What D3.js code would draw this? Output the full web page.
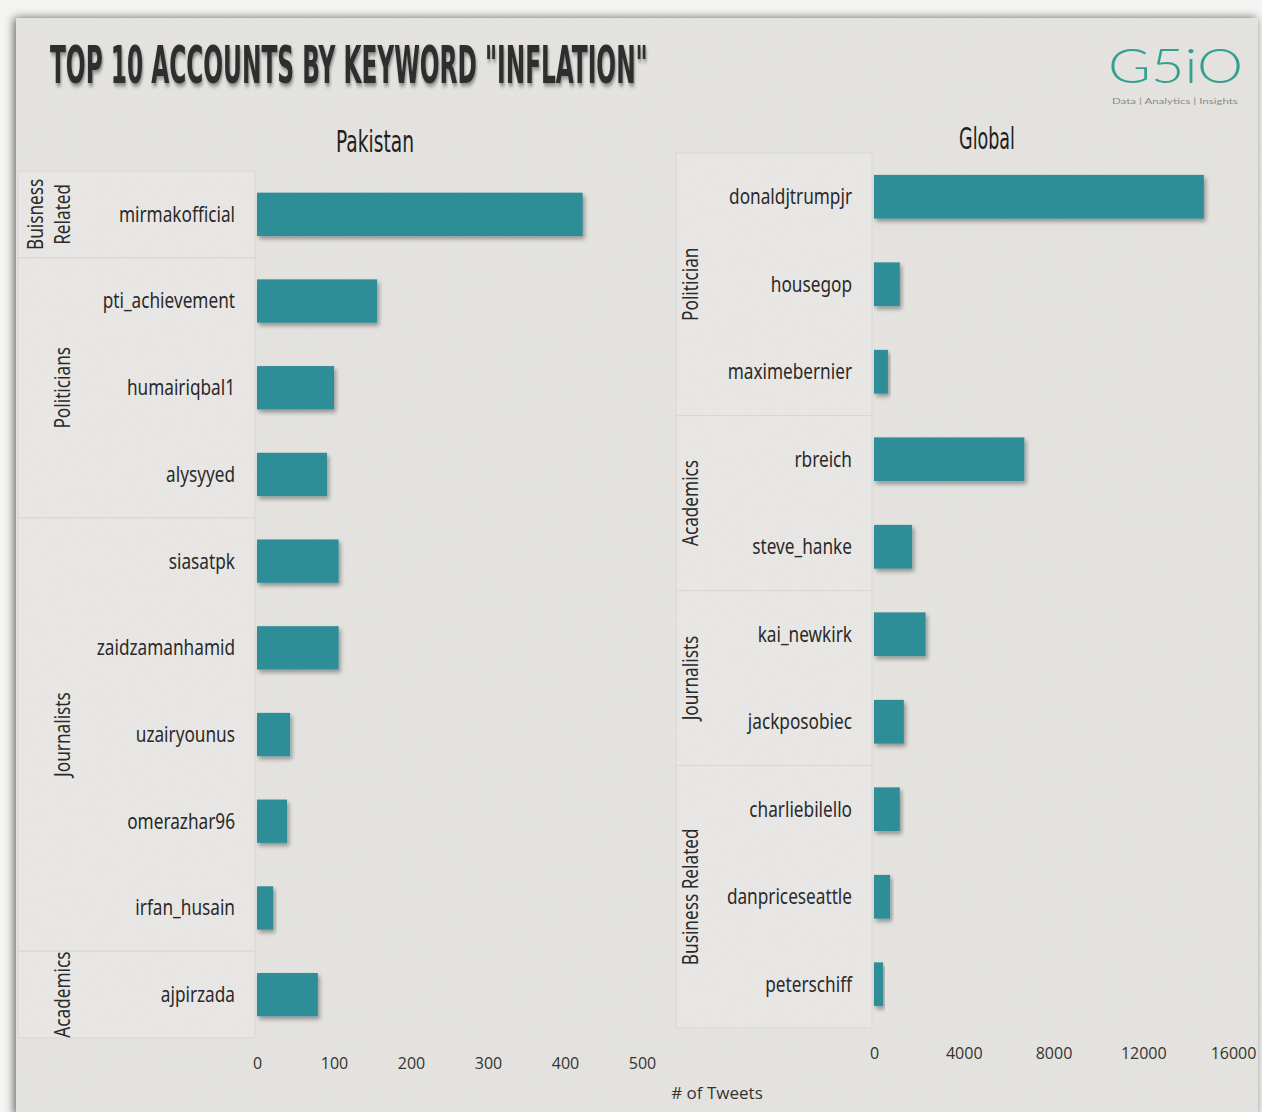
<!DOCTYPE html>
<html>
<head>
<meta charset="utf-8">
<script src="https://cdn.jsdelivr.net/npm/d3@7"></script>
<style>
  body { margin: 0; background: #f4f4f2; }
  svg { display: block; }
</style>
</head>
<body>
<div id="chart"></div>
<script>
// pakistan side
var pkAccounts = ["mirmakofficial", "pti_achievement", "humairiqbal1", "alysyyed", "siasatpk",
                  "zaidzamanhamid", "uzairyounus", "omerazhar96", "irfan_husain", "ajpirzada"];
var pkValues = [423, 156, 100, 91, 106, 106, 43, 39, 21, 79];
var pkGroupNames = [["Buisness", "Related"], ["Politicians"], ["Journalists"], ["Academics"]];
var pkGroupSizes = [1, 3, 5, 1];
var pkTicks = [0, 100, 200, 300, 400, 500];

// global side
var glAccounts = ["donaldjtrumpjr", "housegop", "maximebernier", "rbreich", "steve_hanke",
                  "kai_newkirk", "jackposobiec", "charliebilello", "danpriceseattle", "peterschiff"];
var glValues = [14700, 1150, 620, 6700, 1700, 2300, 1330, 1150, 720, 400];
var glGroupNames = [["Politician"], ["Academics"], ["Journalists"], ["Business Related"]];
var glGroupSizes = [3, 2, 2, 3];
var glTicks = [0, 4000, 8000, 12000, 16000];

var W = 1262, H = 1112;
var barColor = "#2f8e97";
var labelFont = "'Noto Sans', sans-serif";
var squeeze = 0.82; // labels in the original are a condensed face

var svg = d3.select("#chart").append("svg")
  .attr("width", W).attr("height", H);

var defs = svg.append("defs");

// paper grain
var grain = defs.append("filter").attr("id", "grain")
  .attr("x", 0).attr("y", 0).attr("width", "100%").attr("height", "100%");
grain.append("feTurbulence").attr("type", "fractalNoise")
  .attr("baseFrequency", 0.9).attr("numOctaves", 2).attr("seed", 3);
grain.append("feColorMatrix").attr("type", "matrix")
  .attr("values", "0 0 0 0 0.5  0 0 0 0 0.5  0 0 0 0 0.5  0 0 0 0.09 0");

// page shadow
var pageShadow = defs.append("filter").attr("id", "pageShadow")
  .attr("x", "-5%").attr("y", "-5%").attr("width", "110%").attr("height", "110%");
pageShadow.append("feDropShadow").attr("dx", -2).attr("dy", 0)
  .attr("stdDeviation", 5).attr("flood-color", "#000").attr("flood-opacity", 0.6);

// bar shadow
var barShadow = defs.append("filter").attr("id", "barShadow")
  .attr("x", "-20%").attr("y", "-30%").attr("width", "140%").attr("height", "170%");
barShadow.append("feDropShadow").attr("dx", 2).attr("dy", 3)
  .attr("stdDeviation", 2).attr("flood-color", "#000").attr("flood-opacity", 0.35);

// text shadow for title
var textShadow = defs.append("filter").attr("id", "textShadow")
  .attr("x", "-5%").attr("y", "-20%").attr("width", "110%").attr("height", "150%");
textShadow.append("feDropShadow").attr("dx", 2).attr("dy", 3)
  .attr("stdDeviation", 2).attr("flood-color", "#000").attr("flood-opacity", 0.4);

// squash a text horizontally so it spans w pixels
function fitWidth(sel, x, y, w) {
  var len = sel.node().getComputedTextLength();
  sel.attr("transform", "translate(" + x + "," + y + ") scale(" + (w / len) + ",1)");
}

// paper background
svg.append("rect")
  .attr("x", 16).attr("y", 18).attr("width", W - 20).attr("height", H - 14)
  .attr("fill", "#e5e4e0")
  .attr("filter", "url(#pageShadow)");
svg.append("rect")
  .attr("x", 16).attr("y", 18).attr("width", W - 20).attr("height", H - 14)
  .attr("filter", "url(#grain)");

// title
var title = svg.append("text")
  .style("font-family", "'DejaVu Sans Condensed', 'DejaVu Sans', sans-serif")
  .style("font-weight", "bold").style("font-size", "52px")
  .attr("fill", "#2f2f2f")
  .attr("filter", "url(#textShadow)")
  .text("TOP 10 ACCOUNTS BY KEYWORD \"INFLATION\"");
fitWidth(title, 50, 83, 598);

// logo
var logo = svg.append("text")
  .style("font-family", "Lato, sans-serif").style("font-weight", 300)
  .style("font-size", "48px")
  .attr("fill", "#35a091")
  .text("G5iO");
fitWidth(logo, 1108, 83, 135);
var tag = svg.append("text")
  .style("font-family", "Lato, sans-serif").style("font-size", "8px")
  .attr("fill", "#8a8a8a")
  .text("Data | Analytics | Insights");
fitWidth(tag, 1112, 104, 126);

// one panel = table of groups + bars
function drawPanel(opt) {
  var y = d3.scaleBand()
    .domain(opt.accounts)
    .range([opt.top, opt.bottom])
    .paddingInner(0.5).paddingOuter(0.25);

  var x = d3.scaleLinear()
    .domain([0, opt.ticks[opt.ticks.length - 1]])
    .range([opt.x0, opt.x1]);

  var g = svg.append("g");

  // group boxes
  var start = 0;
  opt.groupSizes.forEach(function(n, i) {
    var gy0 = opt.top + y.step() * start;
    var gy1 = opt.top + y.step() * (start + n);
    g.append("rect")
      .attr("x", opt.tableLeft).attr("y", gy0)
      .attr("width", opt.tableRight - opt.tableLeft).attr("height", gy1 - gy0)
      .attr("fill", "#ebeae7").attr("fill-opacity", 0.6)
      .attr("stroke", "#d9d8d4").attr("stroke-width", 1);

    var lines = opt.groupNames[i];
    var cy = (gy0 + gy1) / 2;
    lines.forEach(function(line, j) {
      var cx = opt.catX - (lines.length - 1 - j) * 27;
      g.append("text")
        .attr("transform", "translate(" + cx + "," + cy + ") rotate(-90) scale(" + squeeze + ",1)")
        .attr("text-anchor", "middle")
        .style("font-family", labelFont).style("font-size", "21px")
        .attr("fill", "#2a2a2a")
        .text(line);
    });
    start += n;
  });

  // account labels
  g.selectAll(".acc")
    .data(opt.accounts)
    .enter().append("text")
    .attr("transform", function(d) {
      return "translate(" + opt.labelX + "," + (y(d) + y.bandwidth() / 2) + ") scale(" + squeeze + ",1)";
    })
    .attr("dy", "0.35em")
    .attr("text-anchor", "end")
    .style("font-family", labelFont).style("font-size", "21px")
    .attr("fill", "#2a2a2a")
    .text(function(d) { return d; });

  // bars
  g.selectAll(".bar")
    .data(opt.values)
    .enter().append("rect")
    .attr("x", x(0))
    .attr("y", function(d, i) { return y(opt.accounts[i]); })
    .attr("width", function(d) { return x(d) - x(0); })
    .attr("height", y.bandwidth())
    .attr("fill", barColor)
    .attr("filter", "url(#barShadow)");

  // x axis, labels only
  var axis = g.append("g")
    .attr("transform", "translate(0," + opt.axisY + ")")
    .call(d3.axisBottom(x).tickValues(opt.ticks).tickFormat(d3.format("d")).tickSize(0).tickPadding(0));
  axis.select(".domain").remove();
  axis.selectAll("text")
    .style("font-family", "'Open Sans', sans-serif").style("font-size", "16px")
    .attr("fill", "#333");

  // panel title
  var t = svg.append("text")
    .attr("text-anchor", "middle")
    .style("font-family", "'DejaVu Sans Condensed', sans-serif")
    .style("font-size", "31px")
    .attr("fill", "#1e1e1e")
    .text(opt.title);
  fitWidth(t, opt.titleX, opt.titleY, opt.titleW);
}

drawPanel({
  accounts: pkAccounts, values: pkValues, ticks: pkTicks,
  groupNames: pkGroupNames, groupSizes: pkGroupSizes,
  top: 171, bottom: 1038, x0: 257, x1: 642,
  tableLeft: 18, tableRight: 255, labelX: 235, catX: 70,
  axisY: 1058, title: "Pakistan", titleX: 375, titleY: 152, titleW: 78
});

drawPanel({
  accounts: glAccounts, values: glValues, ticks: glTicks,
  groupNames: glGroupNames, groupSizes: glGroupSizes,
  top: 153, bottom: 1028, x0: 874, x1: 1233,
  tableLeft: 676, tableRight: 872, labelX: 852, catX: 698,
  axisY: 1048, title: "Global", titleX: 987, titleY: 149, titleW: 56
});

// shared x title
svg.append("text")
  .attr("x", 717).attr("y", 1099)
  .attr("text-anchor", "middle")
  .style("font-family", "'Open Sans', sans-serif").style("font-size", "17px")
  .attr("fill", "#333")
  .text("# of Tweets");
</script>
</body>
</html>
